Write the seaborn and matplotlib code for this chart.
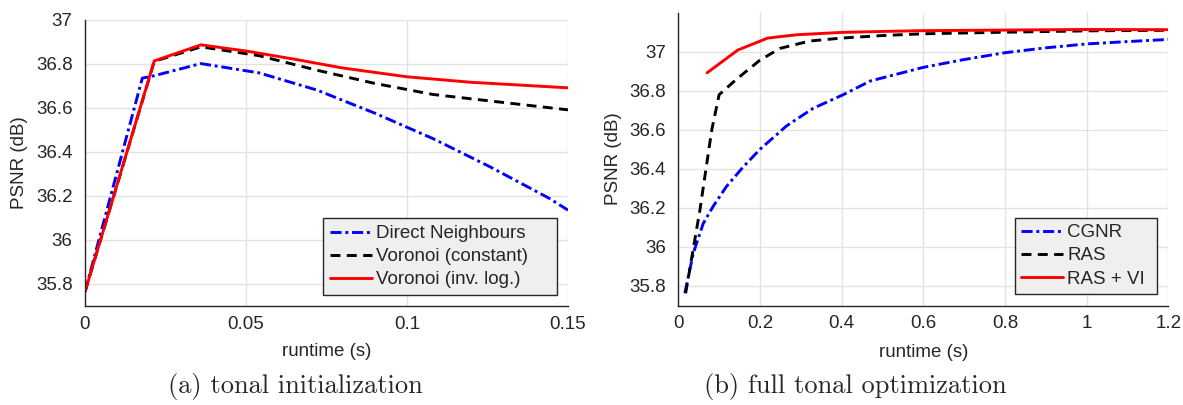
import matplotlib
matplotlib.use("Agg")
import matplotlib.pyplot as plt
import seaborn as sns
import pandas as pd

# ---- data: (a) tonal initialization ----
dn_x = [0, 0.0178, 0.0215, 0.036, 0.054, 0.072, 0.09, 0.108, 0.126, 0.144, 0.15]
dn_y = [35.765, 36.734, 36.745, 36.80, 36.758, 36.68, 36.575, 36.46, 36.33, 36.19, 36.135]
vc_x = [0, 0.0215, 0.036, 0.054, 0.072, 0.09, 0.108, 0.126, 0.15]
vc_y = [35.765, 36.81, 36.876, 36.836, 36.77, 36.71, 36.66, 36.63, 36.59]
vl_x = [0, 0.0215, 0.036, 0.05, 0.065, 0.08, 0.1, 0.12, 0.15]
vl_y = [35.765, 36.812, 36.885, 36.857, 36.82, 36.78, 36.74, 36.715, 36.69]

# ---- data: (b) full tonal optimization ----
cg_x = [0.016, 0.037, 0.061, 0.086, 0.118, 0.159, 0.2, 0.265, 0.33, 0.404, 0.47,
        0.6, 0.7, 0.8, 0.9, 1.0, 1.1, 1.2]
cg_y = [35.763, 35.97, 36.12, 36.21, 36.31, 36.41, 36.50, 36.62, 36.71, 36.78, 36.85,
        36.92, 36.96, 36.995, 37.02, 37.04, 37.052, 37.063]
ras_x = [0.018, 0.053, 0.065, 0.082, 0.1, 0.143, 0.2, 0.249, 0.322, 0.4, 0.5, 0.6,
         0.8, 1.0, 1.2]
ras_y = [35.763, 36.19, 36.36, 36.60, 36.78, 36.86, 36.957, 37.017, 37.055, 37.07,
         37.083, 37.092, 37.10, 37.107, 37.11]
rv_x = [0.0705, 0.146, 0.219, 0.29, 0.4, 0.5, 0.6, 0.8, 1.0, 1.2]
rv_y = [36.892, 37.009, 37.07, 37.087, 37.099, 37.104, 37.108, 37.111, 37.114, 37.113]

labels_a = ["Direct Neighbours", "Voronoi (constant)", "Voronoi (inv. log.)"]
labels_b = ["CGNR", "RAS", "RAS + VI"]
xticks_a = [0, 0.05, 0.1, 0.15]
xticklabels_a = ["0", "0.05", "0.1", "0.15"]
xticks_b = [0, 0.2, 0.4, 0.6, 0.8, 1.0, 1.2]
xticklabels_b = ["0", "0.2", "0.4", "0.6", "0.8", "1", "1.2"]
yticks_a = [35.8, 36, 36.2, 36.4, 36.6, 36.8, 37]
yticklabels_a = ["35.8", "36", "36.2", "36.4", "36.6", "36.8", "37"]
yticks_b = [35.8, 36, 36.2, 36.4, 36.6, 36.8, 37]
yticklabels_b = ["35.8", "36", "36.2", "36.4", "36.6", "36.8", "37"]
caption_a = "(a) tonal initialization"
caption_b = "(b) full tonal optimization"

sns.set_style("white")
plt.rcParams['font.family'] = ['Liberation Sans', 'DejaVu Sans']

W, H = 1183, 405
fig = plt.figure(figsize=(W / 100, H / 100), dpi=100)
ax1 = fig.add_axes([85 / W, 1 - 306 / H, 483 / W, 286.5 / H])
ax2 = fig.add_axes([678.3 / W, 1 - 305.5 / H, 490 / W, 292.8 / H])

styles = [dict(color="#0000ff", dashes=(3.8, 1.3, 1.0, 1.3)),
          dict(color="black", dashes=(3.4, 2.2)),
          dict(color="#ff0000", dashes=())]

def draw(ax, series, labels):
    for (xs, ys), lab, st in zip(series, labels, styles):
        df = pd.DataFrame({"x": xs, "y": ys})
        sns.lineplot(data=df, x="x", y="y", ax=ax, color=st["color"], lw=2.1,
                     label=lab, sort=False, estimator=None)
        line = ax.lines[-1]
        if st["dashes"]:
            line.set_dashes(st["dashes"])
        else:
            line.set_linestyle("-")

def style(ax, xlim, ylim, xt, xtl, yt, ytl, legbox, ylab_x, xlab_y):
    ax.set_xlim(*xlim)
    ax.set_ylim(*ylim)
    ax.set_xticks(xt)
    ax.set_xticklabels(xtl)
    ax.set_yticks(yt)
    ax.set_yticklabels(ytl)
    ax.grid(True, color="#e3e3e3", lw=1.0)
    ax.set_axisbelow(True)
    for s in ["top", "right"]:
        ax.spines[s].set_visible(False)
    for s in ["left", "bottom"]:
        ax.spines[s].set_color("#262626")
        ax.spines[s].set_linewidth(1.0)
    ax.tick_params(direction="in", length=4, width=0.8, colors="#262626",
                   labelsize=13.5, labelcolor="#262626")
    ax.tick_params(axis="y", pad=9)
    ax.tick_params(axis="x", pad=7)
    ax.set_xlabel("runtime (s)", fontsize=13.5, color="#262626")
    ax.set_ylabel("PSNR (dB)", fontsize=13.5, color="#262626")
    ax.yaxis.set_label_coords(ylab_x, 0.5)
    ax.xaxis.set_label_coords(0.5, xlab_y)
    ax.xaxis.label.set_va("center")
    ax.yaxis.label.set_va("center")
    leg = ax.legend(loc="lower left", bbox_to_anchor=legbox, mode="expand",
                    fontsize=13.5, frameon=True, fancybox=False,
                    handlelength=2.25, handletextpad=0.2, borderpad=0.35,
                    labelspacing=0.32, borderaxespad=0.0)
    fr = leg.get_frame()
    fr.set_facecolor("#efefef")
    fr.set_edgecolor("#262626")
    fr.set_linewidth(1.0)
    fr.set_alpha(1)

draw(ax1, [(dn_x, dn_y), (vc_x, vc_y), (vl_x, vl_y)], labels_a)
draw(ax2, [(cg_x, cg_y), (ras_x, ras_y), (rv_x, rv_y)], labels_b)
style(ax1, (0, 0.15), (35.7, 37.0), xticks_a, xticklabels_a, yticks_a, yticklabels_a,
      (0.493, 0.0384, 0.4845, 0.27), -0.1346, -0.16)
style(ax2, (0, 1.2), (35.7, 37.2), xticks_b, xticklabels_b, yticks_b, yticklabels_b,
      (0.6865, 0.039, 0.291, 0.26), -0.132, -0.159)

fig.text(295 / W, 1 - 386 / H, caption_a, family="cmr10",
         fontsize=19, ha="center", va="center")
fig.text(855 / W, 1 - 386 / H, caption_b, family="cmr10",
         fontsize=19, ha="center", va="center")

fig.savefig("out.png", dpi=100)
